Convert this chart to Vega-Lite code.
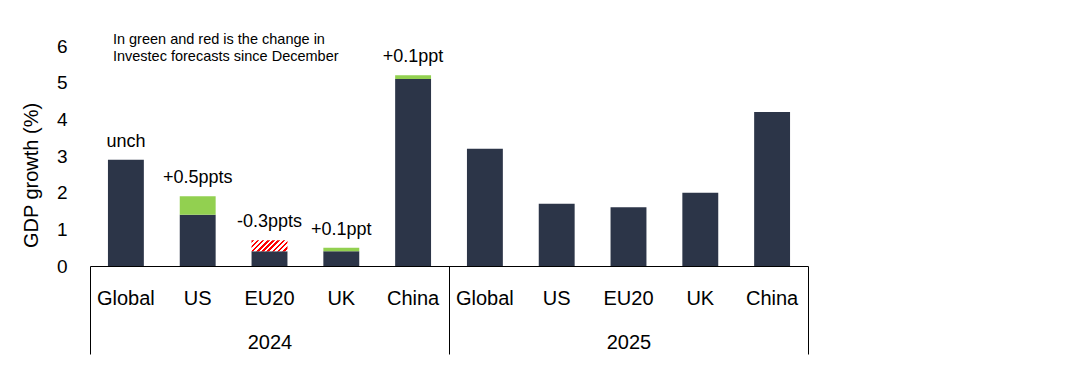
{
  "$schema": "https://vega.github.io/schema/vega-lite/v6.json",
  "width": 718,
  "height": 220,
  "autosize": {"type": "none"},
  "padding": {"left": 90, "top": 46, "right": 280, "bottom": 124},
  "background": "white",
  "config": {
    "view": {"stroke": null},
    "font": "Liberation Sans",
    "axisY": {"domain": false, "ticks": false, "grid": false, "labelPadding": 23, "labelFontSize": 19, "labelColor": "black", "values": [0, 1, 2, 3, 4, 5, 6], "titleFontSize": 20, "titleFontWeight": "normal", "titleColor": "black", "titlePadding": 15, "titleY": 129}
  },
  "datasets": {
    "base": [
      {"key": "2024|Global", "year": "2024", "v": 2.9},
      {"key": "2024|US", "year": "2024", "v": 1.4},
      {"key": "2024|EU20", "year": "2024", "v": 0.4},
      {"key": "2024|UK", "year": "2024", "v": 0.4},
      {"key": "2024|China", "year": "2024", "v": 5.1},
      {"key": "2025|Global", "year": "2025", "v": 3.2},
      {"key": "2025|US", "year": "2025", "v": 1.7},
      {"key": "2025|EU20", "year": "2025", "v": 1.6},
      {"key": "2025|UK", "year": "2025", "v": 2.0},
      {"key": "2025|China", "year": "2025", "v": 4.2}
    ],
    "up": [
      {"key": "2024|US", "from": 1.4, "to": 1.9},
      {"key": "2024|UK", "from": 0.4, "to": 0.5},
      {"key": "2024|China", "from": 5.1, "to": 5.2}
    ],
    "down": [
      {"key": "2024|EU20", "from": 0.4, "to": 0.7}
    ],
    "lab": [
      {"key": "2024|Global", "top": 2.9, "label": "unch"},
      {"key": "2024|US", "top": 1.9, "label": "+0.5ppts"},
      {"key": "2024|EU20", "top": 0.7, "label": "-0.3ppts"},
      {"key": "2024|UK", "top": 0.5, "label": "+0.1ppt"},
      {"key": "2024|China", "top": 5.2, "label": "+0.1ppt"}
    ],
    "note": [
      {"key": "2024|Global", "note": "In green and red is the change in\nInvestec forecasts since December"}
    ],
    "years": [
      {"year": "2024"},
      {"year": "2025"}
    ]
  },
  "layer": [
    {
      "data": {"name": "years"},
      "mark": {"type": "bar", "opacity": 0},
      "encoding": {
        "x": {
          "field": "year", "type": "nominal",
          "scale": {"type": "band", "domain": ["2024", "2025"], "paddingInner": 0, "paddingOuter": 0},
          "axis": {"orient": "bottom", "title": null, "domain": true, "domainColor": "black", "domainWidth": 1, "ticks": true, "tickBand": "extent", "tickSize": 88, "tickColor": "black", "tickWidth": 1, "labelPadding": -22, "labelFontSize": 20, "labelColor": "black", "labelAngle": 0}
        }
      }
    },
    {
      "encoding": {
        "x": {
          "field": "key", "type": "nominal", "sort": null,
          "scale": {"type": "band", "domain": ["2024|Global", "2024|US", "2024|EU20", "2024|UK", "2024|China", "2025|Global", "2025|US", "2025|EU20", "2025|UK", "2025|China"], "paddingInner": 0.5, "paddingOuter": 0.25},
          "axis": {"orient": "bottom", "title": null, "domain": false, "ticks": false, "labelPadding": 22, "labelFontSize": 20, "labelColor": "black", "labelAngle": 0, "labelOverlap": false, "labelExpr": "split(datum.value, '|')[1]"}
        }
      },
      "layer": [
        {
          "data": {"name": "base"},
          "mark": {"type": "bar", "color": "#2c3548"},
          "encoding": {
            "y": {"field": "v", "type": "quantitative", "title": "GDP growth (%)", "scale": {"domain": [0, 6], "nice": false, "zero": true}}
          }
        },
        {
          "data": {"name": "up"},
          "mark": {"type": "bar", "color": "#92d050"},
          "encoding": {
            "y": {"field": "from", "type": "quantitative", "title": "GDP growth (%)"},
            "y2": {"field": "to"}
          }
        },
        {
          "data": {"name": "down"},
          "mark": {
            "type": "bar",
            "color": {
              "gradient": "linear", "x1": 0, "y1": 0, "x2": 1.194, "y2": 0.365,
              "stops": [
                {"offset": 0, "color": "#ff0000"}, {"offset": 0.0556, "color": "#ff0000"}, {"offset": 0.0556, "color": "#ffffff"}, {"offset": 0.1111, "color": "#ffffff"},
                {"offset": 0.1111, "color": "#ff0000"}, {"offset": 0.1667, "color": "#ff0000"}, {"offset": 0.1667, "color": "#ffffff"}, {"offset": 0.2222, "color": "#ffffff"},
                {"offset": 0.2222, "color": "#ff0000"}, {"offset": 0.2778, "color": "#ff0000"}, {"offset": 0.2778, "color": "#ffffff"}, {"offset": 0.3333, "color": "#ffffff"},
                {"offset": 0.3333, "color": "#ff0000"}, {"offset": 0.3889, "color": "#ff0000"}, {"offset": 0.3889, "color": "#ffffff"}, {"offset": 0.4444, "color": "#ffffff"},
                {"offset": 0.4444, "color": "#ff0000"}, {"offset": 0.5, "color": "#ff0000"}, {"offset": 0.5, "color": "#ffffff"}, {"offset": 0.5556, "color": "#ffffff"},
                {"offset": 0.5556, "color": "#ff0000"}, {"offset": 0.6111, "color": "#ff0000"}, {"offset": 0.6111, "color": "#ffffff"}, {"offset": 0.6667, "color": "#ffffff"},
                {"offset": 0.6667, "color": "#ff0000"}, {"offset": 0.7222, "color": "#ff0000"}, {"offset": 0.7222, "color": "#ffffff"}, {"offset": 0.7778, "color": "#ffffff"},
                {"offset": 0.7778, "color": "#ff0000"}, {"offset": 0.8333, "color": "#ff0000"}, {"offset": 0.8333, "color": "#ffffff"}, {"offset": 0.8889, "color": "#ffffff"},
                {"offset": 0.8889, "color": "#ff0000"}, {"offset": 0.9444, "color": "#ff0000"}, {"offset": 0.9444, "color": "#ffffff"}, {"offset": 1, "color": "#ffffff"}
              ]
            }
          },
          "encoding": {
            "y": {"field": "from", "type": "quantitative", "title": "GDP growth (%)"},
            "y2": {"field": "to"}
          }
        },
        {
          "data": {"name": "lab"},
          "mark": {"type": "text", "fontSize": 18, "color": "black", "baseline": "alphabetic", "dy": -13},
          "encoding": {
            "y": {"field": "top", "type": "quantitative", "title": "GDP growth (%)"},
            "text": {"field": "label"}
          }
        },
        {
          "data": {"name": "note"},
          "mark": {"type": "text", "fontSize": 14.5, "color": "black", "align": "left", "baseline": "alphabetic", "lineBreak": "\n", "lineHeight": 16.5, "dx": -13},
          "encoding": {
            "y": {"datum": 6.05, "type": "quantitative", "title": "GDP growth (%)"},
            "text": {"field": "note"}
          }
        }
      ]
    }
  ],
  "resolve": {"scale": {"x": "independent"}, "axis": {"x": "independent"}}
}
